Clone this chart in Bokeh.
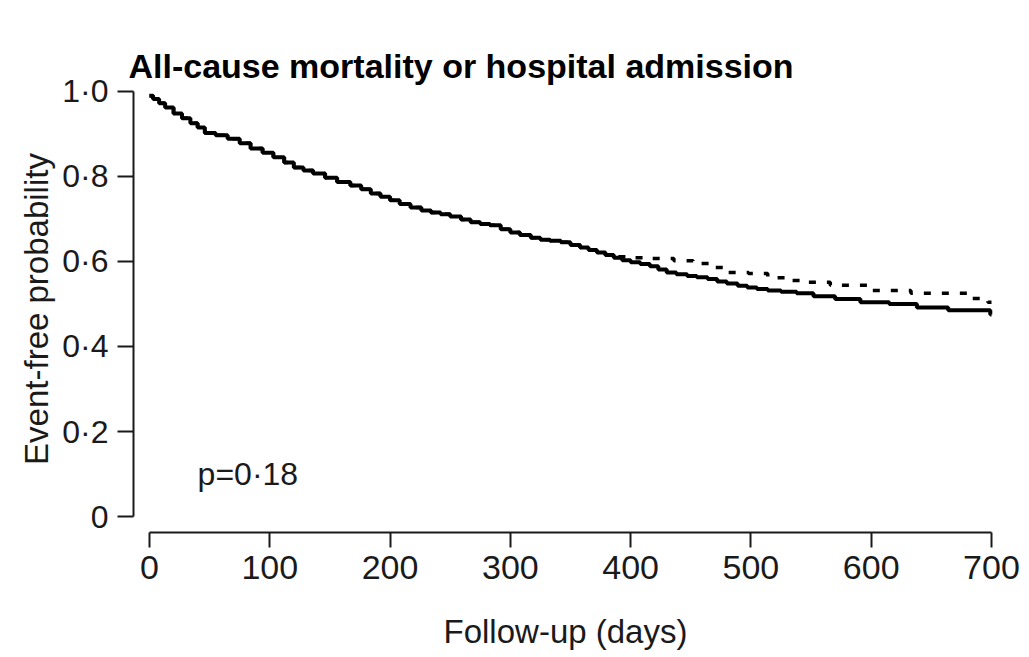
from bokeh.plotting import figure
from bokeh.models import Range1d, FixedTicker, CustomJSTickFormatter, Label
from bokeh.embed import file_html
from bokeh.resources import INLINE

# ---- data (Kaplan-Meier style step curves) ----
solid_days = [0, 3, 8, 13, 20, 27, 34, 40, 46, 55, 65, 75, 84, 94, 103, 112, 120, 128,
              136, 146, 156, 167, 176, 184, 192, 200, 208, 217, 226, 234, 242, 250, 259,
              267, 275, 283, 292, 300, 308, 317, 325, 333, 342, 350, 358, 365, 372, 379,
              386, 393, 400, 408, 416, 423, 430, 438, 447, 455, 464, 472, 480, 489, 497,
              505, 514, 525, 538, 552, 570, 591, 615, 638, 664, 699, 700]
solid_surv = [0.990, 0.982, 0.972, 0.962, 0.948, 0.937, 0.925, 0.915, 0.902, 0.897, 0.889,
              0.878, 0.866, 0.856, 0.845, 0.833, 0.821, 0.814, 0.807, 0.797, 0.787, 0.779,
              0.770, 0.760, 0.752, 0.744, 0.735, 0.727, 0.720, 0.715, 0.711, 0.706, 0.699,
              0.692, 0.688, 0.685, 0.676, 0.668, 0.662, 0.656, 0.651, 0.649, 0.645, 0.639,
              0.633, 0.627, 0.621, 0.615, 0.609, 0.603, 0.598, 0.594, 0.589, 0.581, 0.574,
              0.570, 0.566, 0.563, 0.559, 0.553, 0.548, 0.543, 0.539, 0.535, 0.532, 0.529,
              0.525, 0.518, 0.512, 0.504, 0.500, 0.492, 0.485, 0.475, 0.475]

dashed_days = [0, 3, 8, 13, 20, 27, 34, 40, 46, 55, 65, 75, 84, 94, 103, 112, 120, 128,
               136, 146, 156, 167, 176, 184, 192, 200, 208, 217, 226, 234, 242, 250, 259,
               267, 275, 283, 292, 300, 308, 317, 325, 333, 342, 350, 358, 365, 372, 379,
               386, 397, 416, 436, 452, 466, 481, 498, 514, 533, 548, 566, 599, 633, 684,
               697, 700]
dashed_surv = [0.990, 0.982, 0.972, 0.962, 0.948, 0.937, 0.925, 0.915, 0.902, 0.897, 0.889,
               0.878, 0.866, 0.856, 0.845, 0.833, 0.821, 0.814, 0.807, 0.797, 0.787, 0.779,
               0.770, 0.760, 0.752, 0.744, 0.735, 0.727, 0.720, 0.715, 0.711, 0.706, 0.699,
               0.692, 0.688, 0.685, 0.676, 0.668, 0.662, 0.656, 0.651, 0.649, 0.645, 0.639,
               0.633, 0.627, 0.621, 0.615, 0.611, 0.609, 0.607, 0.602, 0.595, 0.586, 0.574,
               0.572, 0.562, 0.555, 0.551, 0.544, 0.532, 0.525, 0.513, 0.504, 0.504]

x_ticks = [0, 100, 200, 300, 400, 500, 600, 700]
y_ticks = [0, 0.2, 0.4, 0.6, 0.8, 1.0]
title_text = "All-cause mortality or hospital admission"
x_label = "Follow-up (days)"
y_label = "Event-free probability"
p_text = "p=0·18"

FONT = "Liberation Sans"
INK = "#1a1a1a"

p = figure(frame_width=864, frame_height=447,
           x_range=Range1d(-13.3, 705), y_range=Range1d(-0.0376, 1.014),
           output_backend="svg", toolbar_location=None,
           min_border_left=133, min_border_right=24,
           min_border_top=85, min_border_bottom=117)
p.outline_line_color = None
p.xgrid.visible = False
p.ygrid.visible = False
p.background_fill_color = "white"
p.border_fill_color = "white"

p.title.text = title_text
p.title.text_font = FONT
p.title.text_font_size = "34px"
p.title.text_font_style = "bold"
p.title.text_color = "black"
p.title.align = "left"
p.title.offset = -5
p.title.standoff = 2

# dashed first, solid on top
p.step(dashed_days, dashed_surv, mode="after", line_color="black",
       line_width=3.5, line_dash="7 11")
p.step(solid_days, solid_surv, mode="after", line_color="black", line_width=4)

for ax in (p.xaxis[0], p.yaxis[0]):
    ax.axis_line_color = INK
    ax.axis_line_width = 2
    ax.major_tick_line_color = INK
    ax.major_tick_line_width = 2
    ax.minor_tick_line_color = None
    ax.major_tick_in = 0
    ax.major_label_text_font = FONT
    ax.major_label_text_color = INK
    ax.axis_label_text_font = FONT
    ax.axis_label_text_font_style = "normal"
    ax.axis_label_text_color = INK
    ax.axis_label_text_font_size = "33px"

xa = p.xaxis[0]
xa.bounds = (0, 700)
xa.ticker = FixedTicker(ticks=x_ticks)
xa.major_tick_out = 15
xa.major_label_standoff = 8
xa.major_label_text_font_size = "34px"
xa.axis_label = x_label
xa.axis_label_standoff = 31

ya = p.yaxis[0]
ya.bounds = (0, 1)
ya.ticker = FixedTicker(ticks=y_ticks)
ya.formatter = CustomJSTickFormatter(
    code="return tick == 0 ? '0' : tick.toFixed(1).replace('.', '\u00b7');")
ya.major_tick_out = 16
ya.major_label_standoff = 9
ya.major_label_text_font_size = "32px"
ya.axis_label = y_label
ya.axis_label_standoff = 4

p.add_layout(Label(x=40, y=0.099, text=p_text, text_font=FONT, text_font_size="32px",
                   text_color=INK, text_baseline="middle", text_align="left"))

open("out.html", "w").write(file_html(p, INLINE))
